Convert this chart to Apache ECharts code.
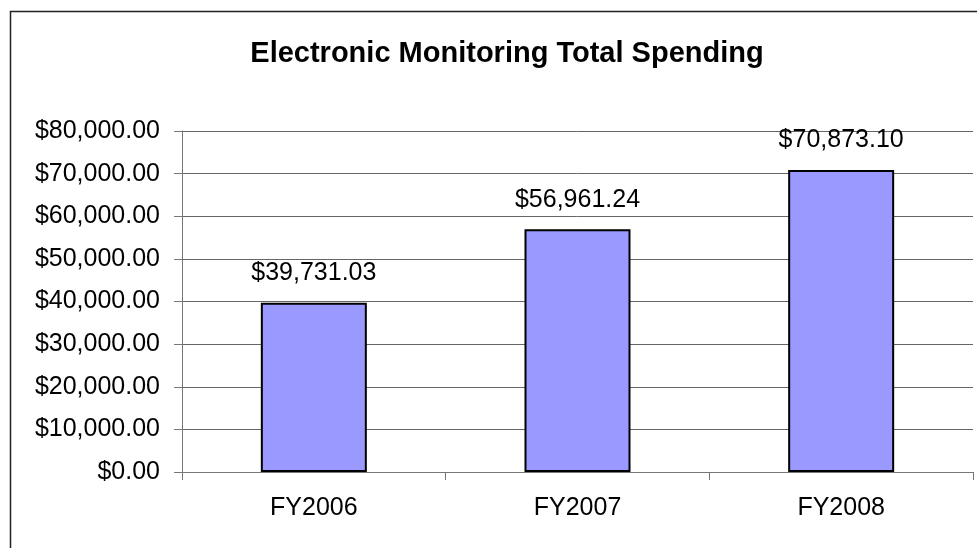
<!DOCTYPE html>
<html>
<head>
<meta charset="utf-8">
<script src="https://cdn.jsdelivr.net/npm/echarts@6/dist/echarts.min.js"></script>
<style>
html,body{margin:0;padding:0;background:#fff;}
#chart{width:977px;height:548px;}
</style>
</head>
<body>
<div id="chart"></div>
<script>
const titleText = 'Electronic Monitoring Total Spending';
const categories = ['FY2006', 'FY2007', 'FY2008'];
const spending = [39731.03, 56961.24, 70873.10];
const yMin = 0, yMax = 80000, yStep = 10000;

const FONT = "'Liberation Sans', Arial, sans-serif";
function money(v) {
  return '$' + Number(v).toLocaleString('en-US', {minimumFractionDigits: 2, maximumFractionDigits: 2});
}

const chart = echarts.init(document.getElementById('chart'), null, {renderer: 'canvas'});
chart.setOption({
  backgroundColor: '#ffffff',
  animation: false,
  title: {
    text: titleText,
    left: 502,
    textAlign: 'center',
    top: 34,
    textStyle: {fontFamily: FONT, fontSize: 29, fontWeight: 'bold', color: '#000'}
  },
  graphic: [{
    type: 'rect',
    shape: {x: 10.5, y: 11.5, width: 1000, height: 600},
    style: {fill: 'none', stroke: '#222', lineWidth: 1.5},
    silent: true
  }],
  grid: {left: 182, right: 4, top: 131, bottom: 76, containLabel: false},
  xAxis: {
    type: 'category',
    data: categories,
    boundaryGap: true,
    axisLine: {show: true, lineStyle: {color: '#777', width: 1}},
    axisTick: {show: true, alignWithLabel: false, length: 8, lineStyle: {color: '#777'}},
    axisLabel: {fontFamily: FONT, fontSize: 25, color: '#000', margin: 24},
    splitLine: {show: false}
  },
  yAxis: {
    type: 'value',
    min: yMin, max: yMax, interval: yStep,
    axisLine: {show: true, lineStyle: {color: '#777', width: 1}},
    axisTick: {show: true, length: 8, lineStyle: {color: '#777'}},
    axisLabel: {fontFamily: FONT, fontSize: 25, color: '#000', margin: 22, formatter: money},
    splitLine: {show: true, lineStyle: {color: '#666', width: 1}}
  },
  series: [{
    type: 'bar',
    data: spending,
    barWidth: 106,
    itemStyle: {color: '#9999FF', borderColor: '#000', borderWidth: 2},
    label: {
      show: true,
      position: 'top',
      distance: 17,
      fontFamily: FONT,
      fontSize: 25,
      color: '#000',
      formatter: p => money(p.value)
    }
  }]
});
</script>
</body>
</html>
